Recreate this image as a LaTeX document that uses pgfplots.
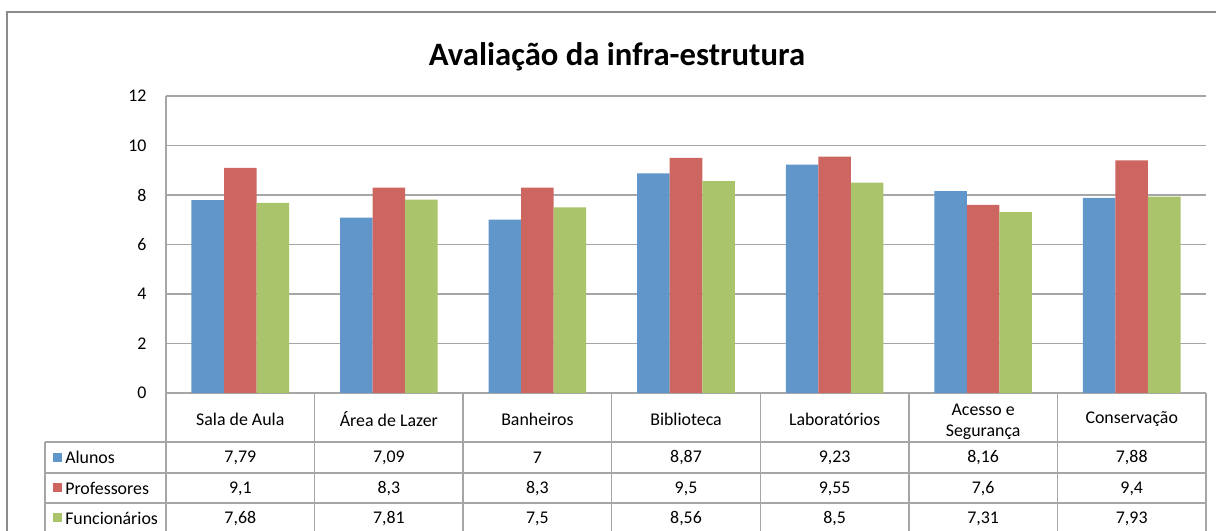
\documentclass[border=0pt]{standalone}
\usepackage{pgfplots}
\usepackage{pgfplotstable}
\pgfplotsset{compat=1.18}
\usepackage{fontspec}
\setmainfont{Carlito}
\definecolor{cA}{HTML}{6096C9}
\definecolor{cP}{HTML}{CD6560}
\definecolor{cF}{HTML}{A9C46A}
\definecolor{gridc}{HTML}{A6A6A6}
\definecolor{framec}{HTML}{8C8C8C}
\pgfplotstableread{
x A P F
0 7.79 9.1 7.68
1 7.09 8.3 7.81
2 7 8.3 7.5
3 8.87 9.5 8.56
4 9.23 9.55 8.5
5 8.16 7.6 7.31
6 7.88 9.4 7.93
}\data
\newcommand\tf{\fontsize{13.4}{15.5}\selectfont}
\begin{document}
\tf
\begin{tikzpicture}[every node/.append style={font=\tf}]
\useasboundingbox (0,0) rectangle (912pt,398.25pt);
\clip (0,0) rectangle (912pt,398.25pt);
\begin{scope}[x=0.75pt,y=-0.75pt,shift={(0pt,398.25pt)}]
\draw[framec, line width=1.4pt] (7,12) rectangle (1240,560);
\node[font=\bfseries\fontsize{24.5}{28}\selectfont, anchor=base] at (617,66) {Avaliação da infra-estrutura};
\end{scope}
\begin{axis}[
  at={(124.5pt,103.5pt)}, anchor=south west,
  scale only axis, width=780pt, height=222.75pt,
  ymin=0, ymax=12, ytick={0,2,...,12},
  xmin=-0.5, xmax=6.5, xtick=\empty,
  ybar=0pt, bar width=24.4pt,
  axis x line*=bottom, axis y line*=left,
  axis line style={-, gridc, line width=1.1pt},
  ymajorgrids, grid style={gridc, line width=1.1pt},
  major tick length=0pt,
  /pgf/number format/assume math mode=true,
  yticklabel style={font=\tf, xshift=-10pt},
]
\addplot[fill=cA, draw=none] table[x=x,y=A]{\data};
\addplot[fill=cP, draw=none] table[x=x,y=P]{\data};
\addplot[fill=cF, draw=none] table[x=x,y=F]{\data};
\end{axis}
\begin{scope}[x=0.75pt,y=-0.75pt,shift={(0pt,398.25pt)}, every node/.style={font=\tf}]
\foreach \k in {0,...,7} {
  \draw[gridc, line width=1.1pt] ({166+\k*148.57},393) -- ({166+\k*148.57},545);
}
\draw[gridc, line width=1.1pt] (45,442) -- (45,545);
\foreach \yy in {442,473,503,533} {
  \draw[gridc, line width=1.1pt] (45,\yy) -- (1206,\yy);
}
\foreach \lab [count=\i from 0] in {Sala de Aula,Área de Lazer,Banheiros,Biblioteca,Laboratórios,{},Conservação} {
  \node at ({240.3+\i*148.57},419.5) {\lab};
}
\node[align=center] at ({240.3+5*148.57},421.5) {Acesso e\\Segurança};
\fill[cA] (53,453) rectangle (62,462);
\fill[cP] (53,483.5) rectangle (62,492.5);
\fill[cF] (53,513.5) rectangle (62,522.5);
\node[anchor=west, inner sep=0pt] at (65,457.5) {Alunos};
\node[anchor=west, inner sep=0pt] at (65,488) {Professores};
\node[anchor=west, inner sep=0pt] at (65,518) {Funcionários};
\foreach \v [count=\i from 0] in {7{,}79,7{,}09,7,8{,}87,9{,}23,8{,}16,7{,}88} {
  \node at ({240.3+\i*148.57},458) {\v};
}
\foreach \v [count=\i from 0] in {9{,}1,8{,}3,8{,}3,9{,}5,9{,}55,7{,}6,9{,}4} {
  \node at ({240.3+\i*148.57},488.5) {\v};
}
\foreach \v [count=\i from 0] in {7{,}68,7{,}81,7{,}5,8{,}56,8{,}5,7{,}31,7{,}93} {
  \node at ({240.3+\i*148.57},518.5) {\v};
}
\end{scope}
\end{tikzpicture}
\end{document}
